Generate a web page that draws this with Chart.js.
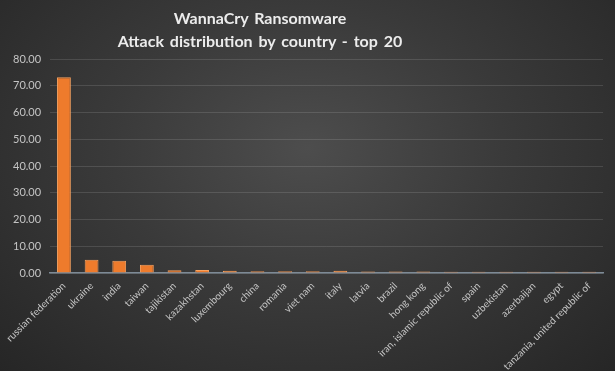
<!DOCTYPE html>
<html>
<head>
<meta charset="utf-8">
<script src="https://cdn.jsdelivr.net/npm/chart.js@4/dist/chart.umd.min.js"></script>
<style>
  html, body { margin: 0; padding: 0; }
  body {
    width: 615px; height: 371px; overflow: hidden;
    background: radial-gradient(ellipse at 50% 40%, #4d4d4d 0%, #3a3a3a 45%, #262626 100%);
  }
  #chart_div { position: relative; width: 615px; height: 371px; }
  #chart_title {
    position: absolute; left: 0; top: 6px; width: 520px;
    text-align: center; color: #ececec;
    font-family: Lato, sans-serif; font-weight: bold; font-size: 16px; line-height: 23px;
    word-spacing: 2px;
  }
</style>
</head>
<body>
<div id="chart_div">
  <div id="chart_title"></div>
  <canvas id="attack_chart"></canvas>
</div>
<script>
// countries, ordered as in the source chart
const countries = ["russian federation", "ukraine", "india", "taiwan", "tajikistan", "kazakhstan",
    "luxembourg", "china", "romania", "viet nam", "italy", "latvia", "brazil", "hong kong",
    "iran, islamic republic of", "spain", "uzbekistan", "azerbaijan", "egypt", "tanzania, united republic of"];
// share of attacks (%)
const attack_percent = [73.2, 5.0, 4.6, 3.1, 1.0, 1.1, 0.8, 0.7, 0.7, 0.7, 0.8, 0.6, 0.6, 0.6, 0.5, 0.5, 0.5, 0.5, 0.5, 0.5];
const title_lines = ["WannaCry  Ransomware", "Attack distribution  by country  - top 20"];
const y_max = 80;
const y_step = 10;

document.getElementById("chart_title").innerHTML = title_lines.join("<br>");

const attack_chart = document.getElementById('attack_chart').getContext('2d');

new Chart(attack_chart, {
    "type": "bar",
    "data": {
        "labels": countries,
        "datasets": [{
            "label": "Attack distribution",
            "data": attack_percent,
            "backgroundColor": "#ee7b2c",
            "borderColor": "#f7a260",
            "borderWidth": 1,
            "borderSkipped": "bottom",
            "categoryPercentage": 1.0,
            "barPercentage": 0.5
        }]
    },
    "options": {
        "responsive": true,
        "maintainAspectRatio": false,
        "animation": false,
        "layout": {"padding": {"top": 59, "right": 12, "left": 10, "bottom": 0}},
        "plugins": {
            "legend": {"display": false},
            "tooltip": {"enabled": false}
        },
        "scales": {
            "x": {
                "grid": {"display": false, "drawTicks": false},
                "border": {"display": true, "color": "#7d8a96", "width": 1.5},
                "ticks": {
                    "color": "#c4c4c4",
                    "font": {"family": "Lato", "size": 10},
                    "minRotation": 45,
                    "maxRotation": 45,
                    "autoSkip": false,
                    "padding": 7
                },
                // fixed band for the slanted labels, as in the original
                "afterFit": function (scale) { scale.height = 98; }
            },
            "y": {
                "min": 0,
                "max": y_max,
                "grid": {"color": "rgba(255,255,255,0.12)", "drawTicks": false},
                "border": {"display": false},
                "ticks": {
                    "stepSize": y_step,
                    "color": "#c4c4c4",
                    "font": {"family": "Lato", "size": 11},
                    "padding": 9,
                    "callback": function (value) { return value.toFixed(2); }
                },
                "afterFit": function (scale) { scale.width = 40; }
            }
        }
    }
});
</script>
</body>
</html>
